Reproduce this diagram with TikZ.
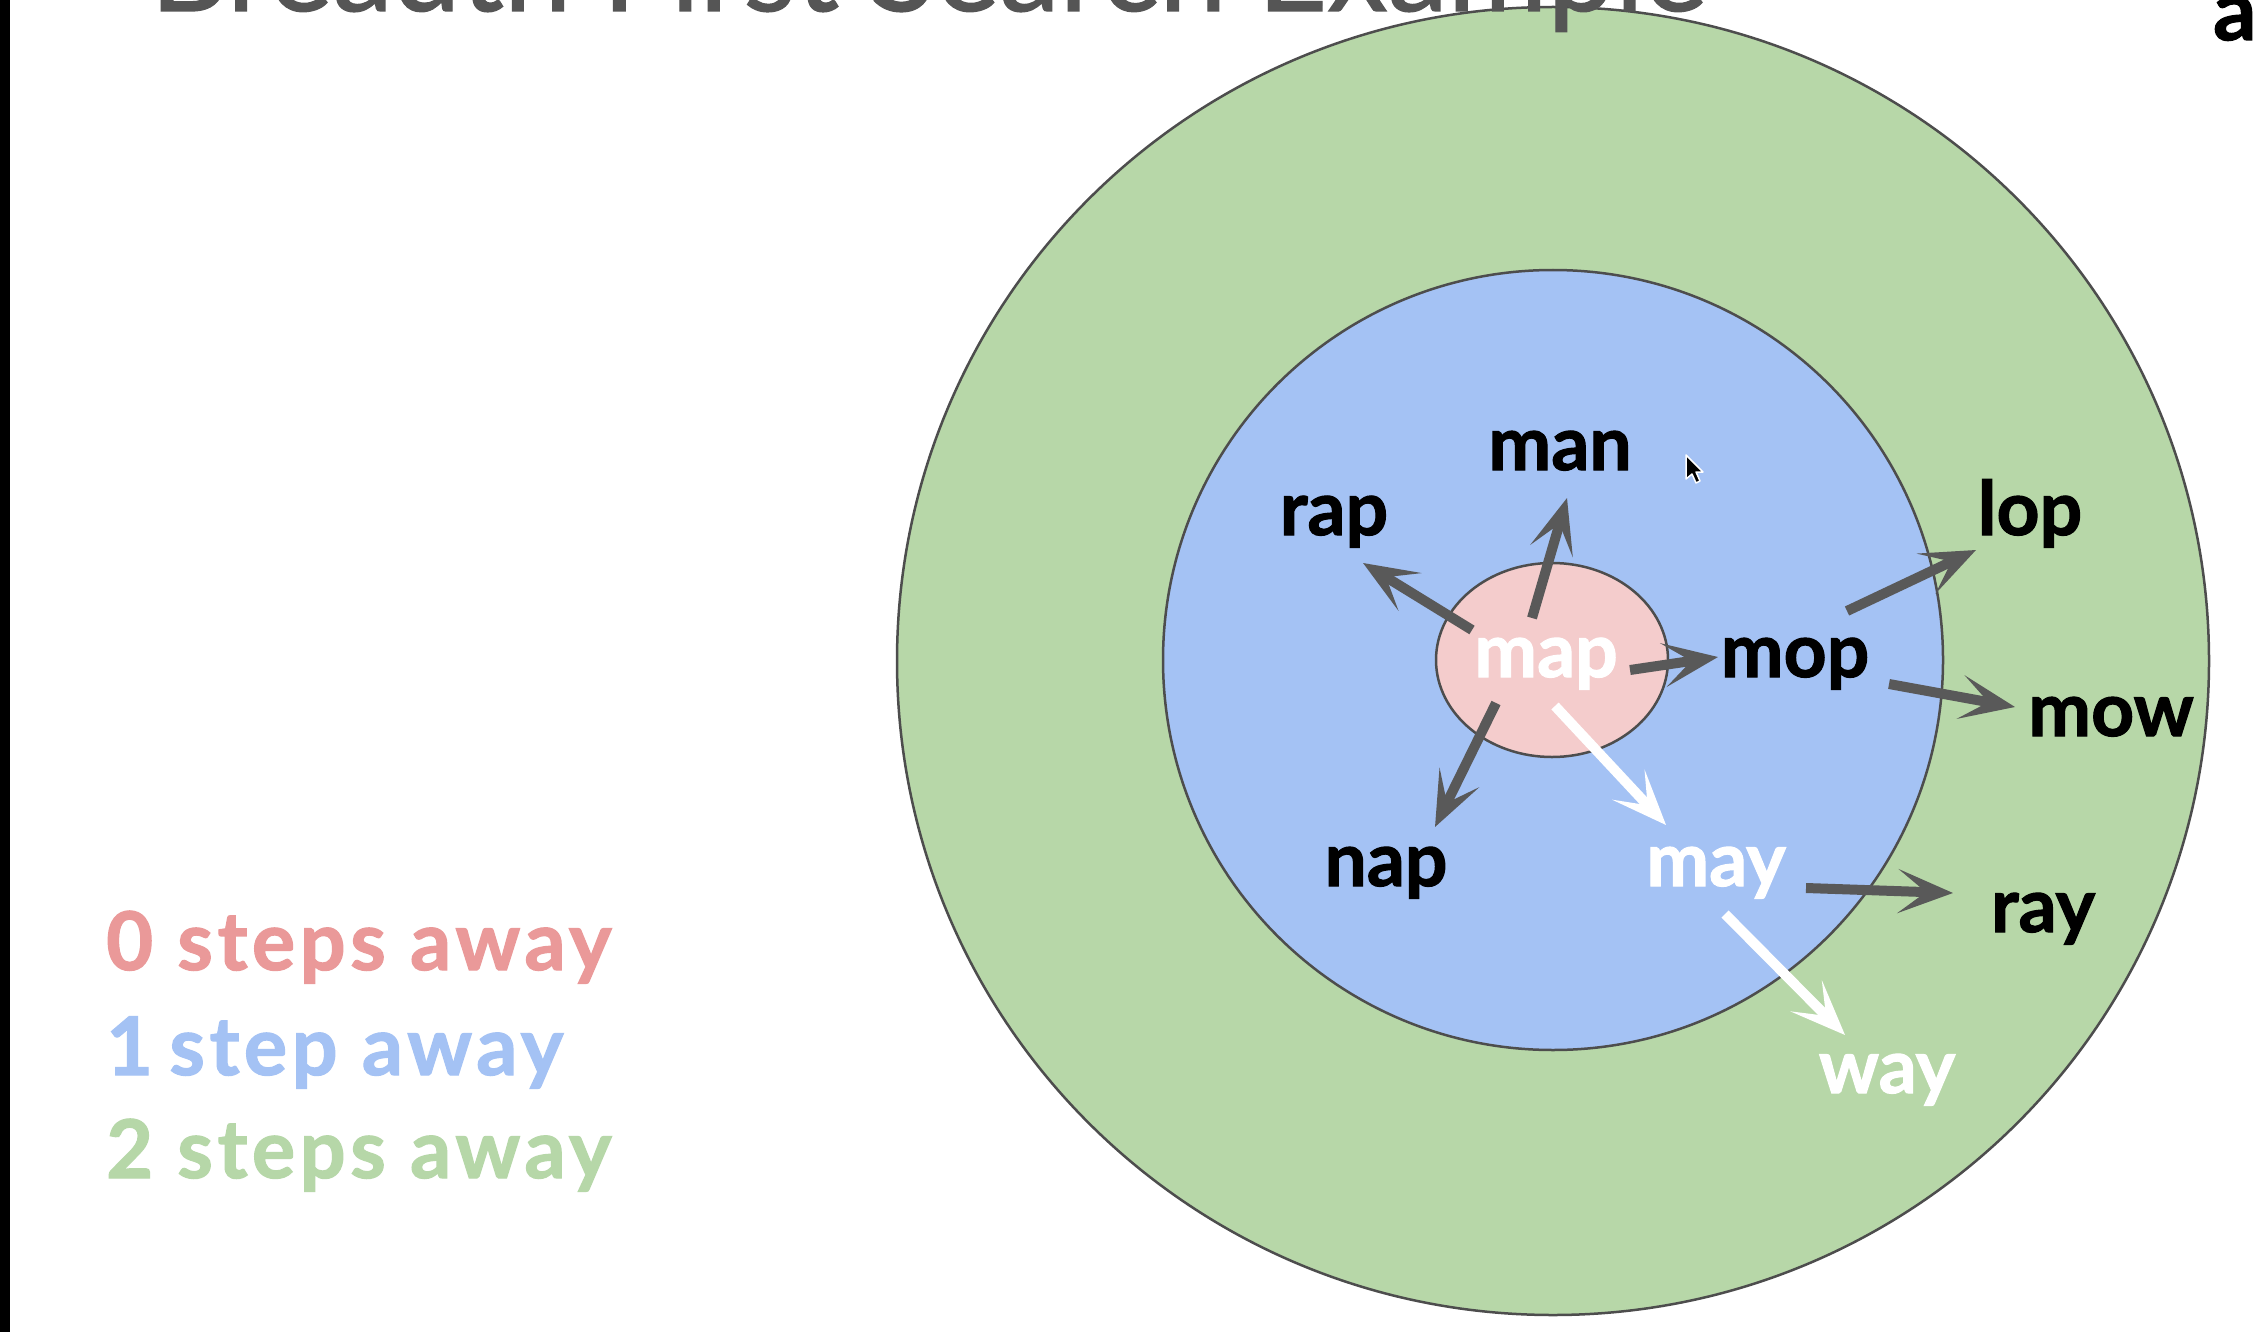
\documentclass[tikz,border=0pt]{standalone}
\usepackage{fontspec}
\setmainfont{Lato}
\usetikzlibrary{arrows.meta}
\definecolor{ringgreen}{HTML}{B7D7A8}
\definecolor{ringblue}{HTML}{A4C2F4}
\definecolor{ringpink}{HTML}{F4CCCC}
\definecolor{ringline}{HTML}{4D4D4D}
\definecolor{arrowgray}{HTML}{595959}
\definecolor{titlegray}{HTML}{555555}
\definecolor{legpink}{HTML}{EA9999}
\definecolor{legblue}{HTML}{A4C2F4}
\definecolor{leggreen}{HTML}{B6D7A8}
\newcommand\lblfont{\fontsize{75}{80}\selectfont\bfseries\addfontfeature{FakeBold=1.5}}
\newcommand\legfont{\fontsize{81}{86}\selectfont\bfseries\addfontfeature{FakeBold=1.5,LetterSpace=5.6}}
\begin{document}
\begin{tikzpicture}[x=1pt,y=-1pt,
  ring/.style={draw=ringline, line width=2.5pt},
  lbl/.style={anchor=base, inner sep=0pt, font=\lblfont, text=black},
  wlbl/.style={lbl, text=white},
  legend/.style={anchor=base west, inner sep=0pt, font=\legfont},
  arr/.style={draw=arrowgray, line width=10pt, -{Stealth[length=55pt,width=44pt,inset=28pt]}},
  warr/.style={arr, draw=white}]
\useasboundingbox (0,0) rectangle (2253,1332);
\clip (0,0) rectangle (2253,1332);
\fill[white] (0,0) rectangle (2253,1332);
\fill[black] (0,0) rectangle (10,1332);
% rings
\draw[ring, fill=ringgreen] (1553,661) ellipse [x radius=656pt, y radius=654pt];
\draw[ring, fill=ringblue] (1553,660) ellipse [x radius=390pt, y radius=390pt];
\draw[ring, fill=ringpink] (1552,660) ellipse [x radius=116pt, y radius=97pt];
% labels
\node[lbl] (man) at (1560,470) {man};
\node[lbl] (rap) at (1334,535) {rap};
\node[lbl] (lop) at (2030,535) {lop};
\node[wlbl] (map) at (1546,677) {map};
\node[lbl] (mop) at (1795,677) {mop};
\node[lbl] (mow) at (2111,736) {mow};
\node[lbl] (nap) at (1386,886) {nap};
\node[wlbl] (may) at (1716,886) {may};
\node[lbl] (ray) at (2043,932) {ray};
\node[wlbl] (way) at (1887,1093) {way};
% arrows
\draw[arr] ([shift={(-74,-47)}]map.base) -- ([shift={(29,28)}]rap.base);
\draw[arr] ([shift={(-14,-59)}]map.base) -- ([shift={(7,28)}]man.base);
\draw[arr] ([shift={(-50,26)}]map.base) -- ([shift={(49,-59)}]nap.base);
\draw[arr] ([shift={(84,-7)}]map.base) -- ([shift={(-77,-20)}]mop.base);
\draw[warr] ([shift={(9,29)}]map.base) -- ([shift={(-50,-61)}]may.base);
\draw[arr] ([shift={(52,-66)}]mop.base) -- ([shift={(-54,15)}]lop.base);
\draw[arr] ([shift={(94,7)}]mop.base) -- ([shift={(-96,-29)}]mow.base);
\draw[arr] ([shift={(90,2)}]may.base) -- ([shift={(-90,-39)}]ray.base);
\draw[warr] ([shift={(9,28)}]may.base) -- ([shift={(-42,-58)}]way.base);
% legend
\node[legend, text=legpink] (leg0) at (106,970) {0 steps away};
\node[legend, text=legblue] (leg1) at (106,1075) {1\kern-8pt{} step away};
\node[legend, text=leggreen] (leg2) at (106,1178) {2 steps away};
% mouse cursor
\filldraw[fill=black, draw=white, line width=1.5pt, line join=round]
  (1686,455) -- ++(0,24) -- ++(6,-5) -- ++(4,9) -- ++(4,-2) -- ++(-4,-9) -- ++(7,0) -- cycle;
% cut-off texts at the top
\node[anchor=base west, inner sep=0pt, text=titlegray, font=\fontsize{121}{130}\selectfont\addfontfeature{FakeBold=1}] (title) at (150,11) {Breadth First Search Example};
\node[anchor=base west, inner sep=0pt, font=\fontsize{85}{90}\selectfont\bfseries\addfontfeature{FakeBold=1.5}] (corner) at (2213,40) {a};
\end{tikzpicture}
\end{document}
